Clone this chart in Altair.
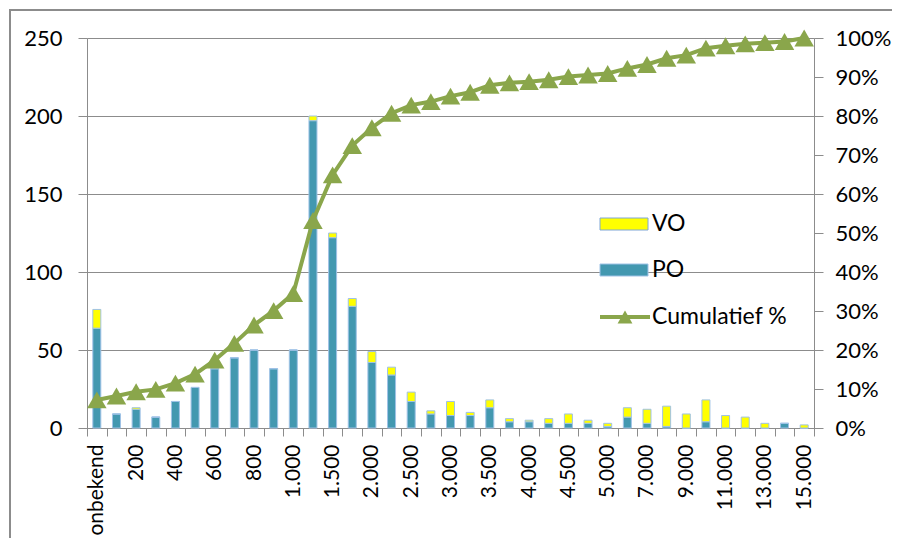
import altair as alt
import pandas as pd

categories = ["onbekend", "100", "200", "300", "400", "500", "600", "700", "800", "900",
              "1.000", "1.250", "1.500", "1.750", "2.000", "2.250", "2.500", "2.750",
              "3.000", "3.250", "3.500", "3.750", "4.000", "4.250", "4.500", "4.750",
              "5.000", "6.000", "7.000", "8.000", "9.000", "10.000", "11.000", "12.000",
              "13.000", "14.000", "15.000"]
po = [64, 9, 12, 7, 17, 26, 38, 45, 50, 38, 50, 197, 122, 78, 42, 34, 17, 9,
      8, 8, 13, 4, 4, 3, 3, 3, 1, 7, 3, 1, 0, 4, 0, 0, 0, 3, 0]
vo = [12, 0, 1, 0, 0, 0, 0, 0, 0, 0, 0, 3, 3, 5, 7, 5, 6, 2,
      9, 2, 5, 2, 1, 3, 6, 2, 2, 6, 9, 13, 9, 14, 8, 7, 3, 0, 2]
cum_pct = [7.2, 8.2, 9.3, 9.9, 11.5, 13.8, 17.4, 21.7, 26.4, 30.1, 34.5, 53.2, 64.9,
           72.4, 77.0, 80.7, 82.8, 83.7, 85.1, 86.1, 87.9, 88.5, 88.8, 89.3, 90.1,
           90.5, 90.9, 92.2, 93.2, 94.8, 95.6, 97.4, 98.0, 98.5, 98.8, 99.1, 100.0]
shown_labels = categories[::2]

BLUE = "#4398b0"
YELLOW = "#ffff00"
GREEN = "#8aa64b"
GRAY = "#8c8c8c"
FONT = "Lato"
FS = 22
XFS = 21
LFS = 23

rows = []
for i, c in enumerate(categories):
    rows.append({"cat": c, "series": "PO", "value": po[i], "ord": 0})
    rows.append({"cat": c, "series": "VO", "value": vo[i], "ord": 1})
bars_df = pd.DataFrame(rows)
line_df = pd.DataFrame({"cat": categories, "pct": [v / 100 for v in cum_pct]})

label_list = ",".join("'" + s + "'" for s in shown_labels)
label_expr = f"indexof([{label_list}], datum.label) >= 0 ? datum.label : ''"

xenc = alt.X("cat:N", sort=categories,
             scale=alt.Scale(paddingInner=0, paddingOuter=0),
             axis=alt.Axis(title=None, labelAngle=270, labelFontSize=XFS, labelFont=FONT,
                           labelColor="#000", tickBand="extent", tickSize=8,
                           labelPadding=8, domainColor=GRAY, tickColor=GRAY,
                           labelExpr=label_expr, labelOverlap=False, grid=False))

bars = alt.Chart(bars_df).mark_bar(size=8, stroke="#9fc2e6", strokeWidth=1).encode(
    x=xenc,
    y=alt.Y("value:Q", stack="zero",
            scale=alt.Scale(domain=[0, 250], nice=False),
            axis=alt.Axis(title=None, values=[0, 50, 100, 150, 200, 250], grid=True,
                          gridColor=GRAY, tickSize=9, labelPadding=16, labelFontSize=FS,
                          labelFont=FONT, labelColor="#000", domainColor=GRAY,
                          tickColor=GRAY)),
    color=alt.Color("series:N", scale=alt.Scale(domain=["PO", "VO"], range=[BLUE, YELLOW]),
                    legend=None),
    order=alt.Order("ord:Q"),
)

yline = alt.Y("pct:Q", scale=alt.Scale(domain=[0, 1], nice=False),
              axis=alt.Axis(title=None, orient="right", format=".0%",
                            values=[i / 10 for i in range(11)], grid=False, tickSize=9,
                            labelPadding=12, labelFontSize=FS, labelFont=FONT,
                            labelColor="#000", domainColor=GRAY, tickColor=GRAY))
line = alt.Chart(line_df).mark_line(color=GREEN, strokeWidth=4).encode(
    x=alt.X("cat:N", sort=categories), y=yline)
pts = alt.Chart(line_df).mark_point(shape="triangle-up", filled=True, size=380,
                                    color=GREEN, opacity=1).encode(
    x=alt.X("cat:N", sort=categories), y=yline)
line_layer = alt.layer(line, pts)

one = pd.DataFrame({"k": [0]})

leg_vo = alt.Chart(one).mark_rect(fill=YELLOW, stroke="#7fa6d6", strokeWidth=1).encode(
    x=alt.value(513), x2=alt.value(561), y=alt.value(180), y2=alt.value(192))
leg_po = alt.Chart(one).mark_rect(fill=BLUE, stroke="#9fc2e6", strokeWidth=1).encode(
    x=alt.value(513), x2=alt.value(561), y=alt.value(226), y2=alt.value(238))
leg_line = alt.Chart(one).mark_rule(color=GREEN, strokeWidth=4).encode(
    x=alt.value(513), x2=alt.value(563), y=alt.value(279))
leg_tri = alt.Chart(one).mark_point(shape="triangle-up", filled=True, size=220,
                                    color=GREEN, opacity=1).encode(
    x=alt.value(538), y=alt.value(279))

def leg_text(txt, y):
    return alt.Chart(one).mark_text(text=txt, align="left", baseline="middle",
                                    fontSize=LFS, font=FONT, color="#000").encode(
        x=alt.value(565), y=alt.value(y))

frame_left = alt.Chart(one).mark_rule(color=GRAY, strokeWidth=2).encode(
    x=alt.value(-77), y=alt.value(-28), y2=alt.value(520))
frame_top = alt.Chart(one).mark_rule(color=GRAY, strokeWidth=2).encode(
    x=alt.value(-78), x2=alt.value(810), y=alt.value(-28))

chart = alt.layer(
    bars, line_layer, leg_vo, leg_po, leg_line, leg_tri,
    leg_text("VO", 186), leg_text("PO", 232), leg_text("Cumulatief %", 279),
    frame_left, frame_top,
).resolve_scale(y="independent").properties(
    width=727, height=390,
    autosize=alt.AutoSizeParams(type="none"),
    padding={"left": 79, "top": 30, "right": 78, "bottom": 110},
).configure_view(stroke=None).configure(font=FONT)

chart.save("out.html", embed_options={"renderer": "svg", "actions": False})
